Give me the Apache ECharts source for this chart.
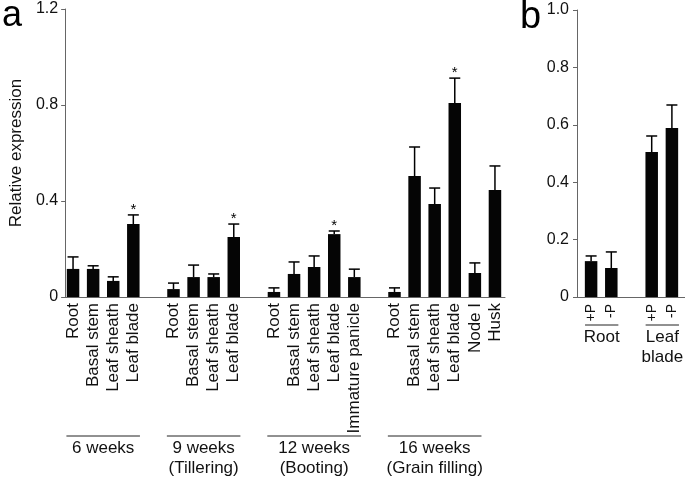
<!DOCTYPE html>
<html>
<head>
<meta charset="utf-8">
<script src="https://cdn.jsdelivr.net/npm/echarts@6/dist/echarts.min.js"></script>
<style>
html,body{margin:0;padding:0;background:#fff;}
#chart{width:685px;height:479px;}
</style>
</head>
<body>
<div id="chart"></div>
<script>
// ---- Panel a data ----
var catsA = ['Root','Basal stem','Leaf sheath','Leaf blade','',
             'Root','Basal stem','Leaf sheath','Leaf blade','',
             'Root','Basal stem','Leaf sheath','Leaf blade','Immature panicle','',
             'Root','Basal stem','Leaf sheath','Leaf blade','Node I','Husk'];
var valuesA = [0.117,0.117,0.067,0.304,null,
               0.033,0.083,0.083,0.250,null,
               0.021,0.096,0.125,0.262,0.083,null,
               0.021,0.504,0.387,0.808,0.100,0.446];
var errA = [0.050,0.013,0.017,0.038,null,
            0.025,0.050,0.013,0.054,null,
            0.017,0.050,0.046,0.013,0.033,null,
            0.017,0.121,0.067,0.104,0.042,0.100];
var starIndexA = [3, 8, 13, 19];
var groupNamesA = ['6 weeks','9 weeks\n(Tillering)','12 weeks\n(Booting)','16 weeks\n(Grain filling)'];
var groupStartA = [0, 5, 10, 16];
var groupEndA = [3, 8, 14, 20];
var yTicksA = [0, 0.4, 0.8, 1.2];

// ---- Panel b data ----
var catsB = ['+P','-P','','+P','-P'];
var valuesB = [0.125,0.101,null,0.505,0.589];
var errB = [0.018,0.056,null,0.056,0.080];
var groupNamesB = ['Root','Leaf\nblade'];
var groupStartB = [0, 3];
var groupEndB = [1, 4];
var yTicksB = [0, 0.2, 0.4, 0.6, 0.8, 1.0];

var FONT = "'Liberation Sans', Arial, Helvetica, sans-serif";
var AXIS_COLOR = '#666';
var TEXT_COLOR = '#111';

function fmt(v){ return v === 0 ? '0' : v.toFixed(1); }

function errData(vals, errs, stars){
  var out = [];
  for (var i = 0; i < vals.length; i++) {
    if (vals[i] == null) continue;
    out.push([i, vals[i], errs[i], stars && stars.indexOf(i) >= 0 ? 1 : 0]);
  }
  return out;
}
function groupData(starts, ends){
  var out = [];
  for (var i = 0; i < starts.length; i++) out.push([starts[i], ends[i], i]);
  return out;
}

function errRender(params, api){
  var i = api.value(0), v = api.value(1), e = api.value(2), star = api.value(3);
  var base = api.coord([i, v]);
  var top = api.coord([i, v + e]);
  var half = 5.5;
  var children = [
    {type:'line', shape:{x1:base[0], y1:base[1], x2:top[0], y2:top[1]}, style:{stroke:'#000', lineWidth:1.5}},
    {type:'line', shape:{x1:top[0]-half, y1:top[1], x2:top[0]+half, y2:top[1]}, style:{stroke:'#000', lineWidth:1.5}}
  ];
  if (star) {
    children.push({type:'text', style:{text:'*', x:top[0], y:top[1]+2, align:'center', verticalAlign:'bottom',
      font:'15px ' + FONT, fill:'#000'}});
  }
  return {type:'group', children:children};
}

function makeGroupRender(names, offsetLine, lpad, rpad, fontSize, lineH){
  return function(params, api){
    var s = api.value(0), e = api.value(1), idx = api.value(2);
    var p1 = api.coord([s, 0]);
    var p2 = api.coord([e, 0]);
    var w = api.size([1, 0])[0];
    var y = p1[1] + offsetLine;
    var x1 = p1[0] - lpad * w, x2 = p2[0] + rpad * w;
    return {type:'group', children:[
      {type:'line', shape:{x1:x1, y1:y, x2:x2, y2:y}, style:{stroke:'#222', lineWidth:1}},
      {type:'text', style:{text:names[idx], x:(x1+x2)/2, y:y+2, align:'center', verticalAlign:'top',
        font:fontSize + 'px ' + FONT, fill:TEXT_COLOR, lineHeight:lineH}}
    ]};
  };
}

var chart = echarts.init(document.getElementById('chart'), null, {renderer:'canvas'});
var option = {
  backgroundColor:'#fff',
  animation:false,
  title:[
    {text:'a', left:2, top:-2, padding:0, textStyle:{fontSize:36, fontWeight:'normal', color:'#000', fontFamily:FONT}},
    {text:'b', left:520, top:-1, padding:0, textStyle:{fontSize:38, fontWeight:'normal', color:'#000', fontFamily:FONT}}
  ],
  grid:[
    {left:58, right:180, top:9, bottom:182},
    {left:63, right:180, top:9, bottom:182},
    {left:577, right:0, top:10, bottom:182},
    {left:581, right:3, top:10, bottom:182}
  ],
  xAxis:[
    {gridIndex:0, type:'value', min:0, max:1, axisLine:{show:true, lineStyle:{color:AXIS_COLOR, width:1}},
      axisTick:{show:false}, axisLabel:{show:false}, splitLine:{show:false}},
    {gridIndex:1, type:'category', data:catsA, axisLine:{show:false}, axisTick:{show:false}, splitLine:{show:false},
      axisLabel:{interval:0, rotate:90, margin:6, fontSize:17, color:TEXT_COLOR, fontFamily:FONT}},
    {gridIndex:2, type:'value', min:0, max:1, axisLine:{show:true, lineStyle:{color:AXIS_COLOR, width:1}},
      axisTick:{show:false}, axisLabel:{show:false}, splitLine:{show:false}},
    {gridIndex:3, type:'category', data:catsB, axisLine:{show:false}, axisTick:{show:false}, splitLine:{show:false},
      axisLabel:{interval:0, rotate:90, margin:7, fontSize:14, color:TEXT_COLOR, fontFamily:FONT}}
  ],
  yAxis:[
    {gridIndex:0, type:'value', min:yTicksA[0], max:yTicksA[yTicksA.length-1], interval:0.4,
      name:'Relative expression', nameLocation:'middle', nameGap:38,
      nameTextStyle:{fontSize:17, color:TEXT_COLOR, fontFamily:FONT},
      axisLine:{show:true, lineStyle:{color:AXIS_COLOR, width:1}},
      axisTick:{show:true, length:4, lineStyle:{color:AXIS_COLOR}},
      axisLabel:{formatter:fmt, fontSize:16, margin:7, color:TEXT_COLOR, fontFamily:FONT},
      splitLine:{show:false}},
    {gridIndex:1, type:'value', min:0, max:1.2, show:false, splitLine:{show:false}},
    {gridIndex:2, type:'value', min:yTicksB[0], max:yTicksB[yTicksB.length-1], interval:0.2,
      axisLine:{show:true, lineStyle:{color:AXIS_COLOR, width:1}},
      axisTick:{show:true, length:4, lineStyle:{color:AXIS_COLOR}},
      axisLabel:{formatter:fmt, fontSize:16, margin:8, color:TEXT_COLOR, fontFamily:FONT},
      splitLine:{show:false}},
    {gridIndex:3, type:'value', min:0, max:1.0, show:false, splitLine:{show:false}}
  ],
  series:[
    {type:'bar', xAxisIndex:1, yAxisIndex:1, data:valuesA, barWidth:12.5, itemStyle:{color:'#050505'}, z:2},
    {type:'custom', xAxisIndex:1, yAxisIndex:1, data:errData(valuesA, errA, starIndexA), renderItem:errRender, clip:false, z:3},
    {type:'custom', xAxisIndex:1, yAxisIndex:1, data:groupData(groupStartA, groupEndA),
      renderItem:makeGroupRender(groupNamesA, 139, 0.33, 0.33, 17, 20), clip:false, z:3},
    {type:'bar', xAxisIndex:3, yAxisIndex:3, data:valuesB, barWidth:12.5, itemStyle:{color:'#050505'}, z:2},
    {type:'custom', xAxisIndex:3, yAxisIndex:3, data:errData(valuesB, errB, null), renderItem:errRender, clip:false, z:3},
    {type:'custom', xAxisIndex:3, yAxisIndex:3, data:groupData(groupStartB, groupEndB),
      renderItem:makeGroupRender(groupNamesB, 28, 0.3, 0.35, 17, 20), clip:false, z:3}
  ]
};
chart.setOption(option);
</script>
</body>
</html>
